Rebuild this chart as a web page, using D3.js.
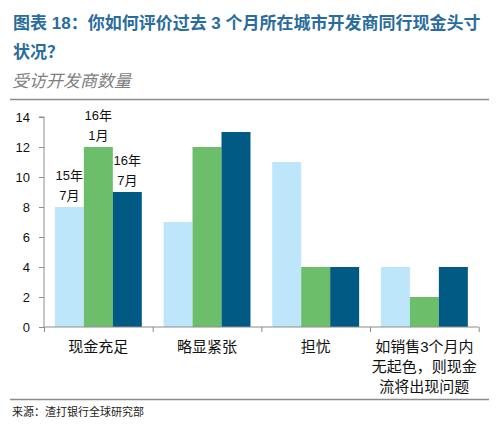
<!DOCTYPE html>
<html>
<head>
<meta charset="utf-8">
<script src="https://cdn.jsdelivr.net/npm/d3@7/dist/d3.min.js"></script>
<style>
  html, body { margin: 0; padding: 0; background: #fff; }
  svg { display: block; }
  .cjk { font-family: "Liberation Sans", Arial, "Noto Sans CJK SC", sans-serif; }
  .narrow { font-family: "Liberation Sans Narrow", "Arial Narrow", "Liberation Sans", "Noto Sans CJK SC", sans-serif; }
</style>
</head>
<body>
<svg id="chart" width="499" height="425"></svg>
<script>
// ---- data ----
const titleLines = ["图表 18：你如何评价过去 3 个月所在城市开发商同行现金头寸", "状况？"];
const subtitle = "受访开发商数量";
const source = "来源：渣打银行全球研究部";
const categories = ["现金充足", "略显紧张", "担忧", "如销售3个月内无起色，则现金流将出现问题"];
const categoryLines = [["现金充足"], ["略显紧张"], ["担忧"], ["如销售3个月内", "无起色，则现金", "流将出现问题"]];
const seriesNames = ["15年7月", "16年1月", "16年7月"];
const seriesLabelLines = [["15年", "7月"], ["16年", "1月"], ["16年", "7月"]];
const series1507 = [8, 7, 11, 4];
const series1601 = [12, 12, 4, 2];
const series1607 = [9, 13, 4, 4];
const yTicks = [0, 2, 4, 6, 8, 10, 12, 14];
const colors = ["#BEE6FA", "#6CBE6A", "#005A84"];

const seriesValues = [series1507, series1601, series1607];

// ---- layout ----
const svg = d3.select("#chart");
const plotLeft = 44, plotRight = 478.7, plotTop = 117, plotBottom = 327;

const x0 = d3.scaleBand().domain(categories).range([plotLeft, plotRight]).paddingInner(0.2).paddingOuter(0.1);
const x1 = d3.scaleBand().domain(seriesNames).range([0, x0.bandwidth()]).padding(0);
const y = d3.scaleLinear().domain([0, 14]).range([plotBottom, plotTop]);

// title
const title = svg.append("g").attr("class", "cjk");
titleLines.forEach((t, i) => {
  title.append("text").attr("x", 13).attr("y", 29 + i * 29)
    .attr("font-size", 17).attr("font-weight", "bold").attr("fill", "#2A6C9C").text(t);
});
svg.append("text").attr("class", "cjk").attr("x", 12).attr("y", 87)
  .attr("font-size", 17).attr("font-style", "italic").attr("fill", "#7F7F7F").text(subtitle);

svg.append("line").attr("x1", 10).attr("x2", 489).attr("y1", 99.5).attr("y2", 99.5)
  .attr("stroke", "#8C8C8C").attr("stroke-width", 1.5);
svg.append("line").attr("x1", 10).attr("x2", 489).attr("y1", 399.5).attr("y2", 399.5)
  .attr("stroke", "#8C8C8C").attr("stroke-width", 1.5);
svg.append("text").attr("class", "cjk").attr("x", 12).attr("y", 416)
  .attr("font-size", 11).attr("fill", "#222").text(source);

// bars
const groups = svg.append("g").selectAll("g").data(categories).join("g")
  .attr("transform", d => `translate(${x0(d)},0)`);
groups.selectAll("rect").data((d, ci) => seriesNames.map((s, si) => ({ s, si, v: seriesValues[si][ci] })))
  .join("rect")
  .attr("x", d => x1(d.s))
  .attr("width", x1.bandwidth())
  .attr("y", d => y(d.v))
  .attr("height", d => y(0) - y(d.v))
  .attr("fill", d => colors[d.si]);

// series labels above first group
const firstCat = categories[0];
seriesNames.forEach((s, si) => {
  const cx = x0(firstCat) + x1(s) + x1.bandwidth() / 2;
  const barTop = y(seriesValues[si][0]);
  const lines = seriesLabelLines[si];
  lines.forEach((ln, li) => {
    svg.append("text").attr("class", "narrow").attr("x", cx)
      .attr("y", barTop - 7 - (lines.length - 1 - li) * 20)
      .attr("text-anchor", "middle").attr("font-size", 13).attr("fill", "#111").text(ln);
  });
});

// y axis
const yAxis = svg.append("g").attr("transform", `translate(${plotLeft},0)`)
  .call(d3.axisLeft(y).tickValues(yTicks).tickSize(5).tickPadding(9).tickFormat(d3.format("d")));
yAxis.select(".domain").attr("stroke", "#8C8C8C").attr("d", `M-5,${plotTop}H0V${plotBottom}`);
yAxis.selectAll(".tick line").attr("stroke", "#8C8C8C");
yAxis.selectAll("text").attr("class", "narrow").attr("font-size", 13).attr("fill", "#111");

// x axis: ticks at band boundaries
const xb = d3.scaleLinear().domain([0, categories.length]).range([plotLeft, plotRight]);
const xAxis = svg.append("g").attr("transform", `translate(0,${plotBottom})`)
  .call(d3.axisBottom(xb).tickValues(d3.range(categories.length + 1)).tickSize(5).tickFormat(""));
xAxis.select(".domain").attr("stroke", "#8C8C8C").attr("d", `M${plotLeft},0H${plotRight}`);
xAxis.selectAll(".tick line").attr("stroke", "#8C8C8C");

// category labels
categories.forEach((c, ci) => {
  const cx = x0(c) + x0.bandwidth() / 2;
  categoryLines[ci].forEach((ln, li) => {
    svg.append("text").attr("class", "narrow").attr("x", cx).attr("y", 352 + li * 20)
      .attr("text-anchor", "middle").attr("font-size", 15).attr("fill", "#111").text(ln);
  });
});
</script>
</body>
</html>
